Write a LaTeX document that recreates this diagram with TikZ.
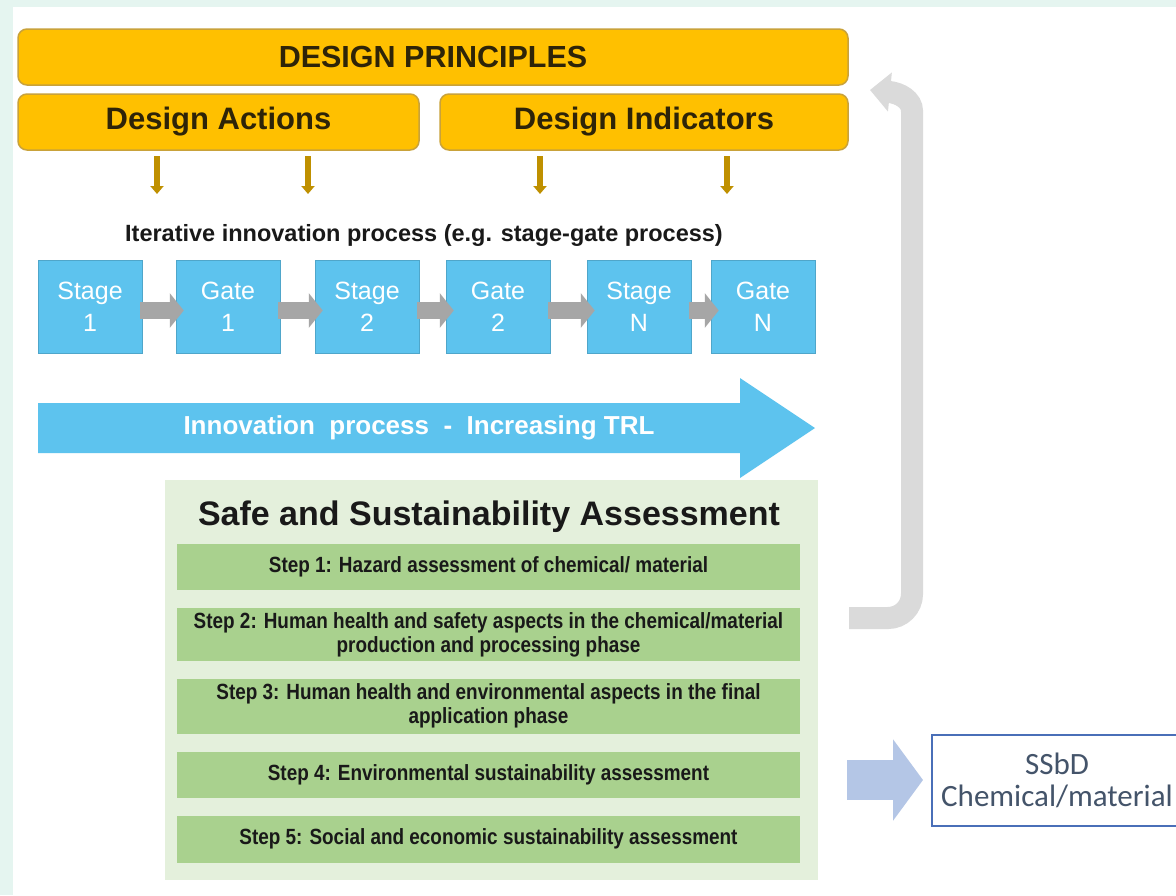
\documentclass[tikz,border=0pt]{standalone}
\usepackage{fontspec}
\setmainfont{Liberation Sans}
\newfontfamily\narrowsans[FakeStretch=0.86]{Liberation Sans}
\newfontfamily\calibsans{Carlito}
\usepackage{xcolor}
\usetikzlibrary{arrows.meta, positioning}
\definecolor{mintback}{HTML}{E5F5F0}
\definecolor{goldfill}{HTML}{FFC000}
\definecolor{goldline}{HTML}{C9A23A}
\definecolor{goldtext}{HTML}{2E2408}
\definecolor{goldarrow}{HTML}{BF9000}
\definecolor{sgblue}{HTML}{5DC3EE}
\definecolor{flowgray}{HTML}{A6A6A6}
\definecolor{loopgray}{HTML}{DADADA}
\definecolor{panelgreen}{HTML}{E4F0DC}
\definecolor{stepgreen}{HTML}{A9D18E}
\definecolor{outblue}{HTML}{B4C6E6}
\definecolor{ssbdline}{HTML}{4A6FB8}
\definecolor{ssbdtext}{HTML}{44546A}

\begin{document}
\begin{tikzpicture}[x=1pt, y=-1pt, node distance=17.5pt,
        principle/.style={rectangle, draw=goldline, line width=1.5pt, fill=goldfill, rounded corners=9pt, minimum height=56pt, inner sep=0pt, text=goldtext, font=\bfseries\fontsize{30.5}{32}\selectfont},
        sgbox/.style={rectangle, draw=sgblue!85!black, line width=0.5pt, fill=sgblue, minimum width=104pt, minimum height=93pt, inner sep=0pt, align=center, text=white, font=\fontsize{25}{32}\selectfont},
        stepbox/.style={rectangle, fill=stepgreen, minimum width=623pt, inner sep=0pt, align=center, text=black!90, font=\narrowsans\bfseries\fontsize{22}{24}\selectfont},
        dropdown/.style={-{Triangle[length=8pt, width=13pt]}, line width=6pt, draw=goldarrow},
        flowarrow/.style={-{Triangle[length=14pt, width=34pt]}, line width=17pt, draw=flowgray},
        loopback/.style={-{Triangle[length=20pt, width=38pt]}, line width=22pt, draw=loopgray, rounded corners=24pt},
        outarrow/.style={-{Triangle[length=30pt, width=80pt]}, line width=40pt, draw=outblue}]

    \useasboundingbox (0,0) rectangle (1176,895);
    \fill[mintback] (0,0) rectangle (1176,895);
    \fill[white] (13,7) rectangle (1176,895);

    % design principles
    \node[principle, minimum width=830pt] (dp) at (433,57) {DESIGN PRINCIPLES};
    \node[principle, minimum width=401pt, font=\bfseries\fontsize{31}{32}\selectfont] (da) at (218.5,122) {Design Actions};
    \node[principle, minimum width=408pt, font=\bfseries\fontsize{31}{32}\selectfont] (di) at (644,122) {Design Indicators};

    \foreach \x [count=\i] in {157,308,540,727} {
        \coordinate (u\i) at (\x,156);
        \coordinate (d\i) at (\x,194);
        \draw[dropdown] (u\i) -- (d\i);
    }

    % stage-gate row
    \node[font=\bfseries\fontsize{23.5}{26}\selectfont, text=black!90] (iter) at (424,235) {Iterative innovation process (e.g. stage-gate process)};
    \foreach \nm/\cx/\kind/\num in {s1/90/Stage/1, g1/228/Gate/1, s2/367/Stage/2, g2/498/Gate/2, sN/639/Stage/N, gN/763/Gate/N}
        \node[sgbox] (\nm) at (\cx,306.5) {\kind\\\num};
    \foreach \a/\b in {s1/g1, g1/s2, s2/g2, g2/sN, sN/gN}
        \draw[flowarrow] ([xshift=-2pt, yshift=-4pt]\a.east) -- ([xshift=8pt, yshift=-4pt]\b.west);

    % TRL arrow
    \fill[sgblue] (38,403) -- (740,403) -- (740,378) -- (815,428) -- (740,478) -- (740,453) -- (38,453) -- cycle;
    \node[font=\bfseries\fontsize{26}{28}\selectfont, text=white] (trl) at (419,428) {Innovation\ \ process\ \ -\ \ Increasing TRL};

    % assessment
    \node[rectangle, fill=panelgreen, minimum width=653pt, minimum height=400pt, inner sep=0pt] (panel) at (491.5,680) {};
    \node[font=\bfseries\fontsize{34}{36}\selectfont, text=black!90] (ssa) at (489,517) {Safe and Sustainability Assessment};
    \node[stepbox, minimum height=46pt] (step1) at (488.5,567) {Step 1: Hazard assessment of chemical/ material};
    \node[stepbox, minimum height=53pt, below=of step1] (step2) {Step 2: Human health and safety aspects in the chemical/material\\production and processing phase};
    \node[stepbox, minimum height=55pt, below=of step2] (step3) {Step 3: Human health and environmental aspects in the final\\application phase};
    \node[stepbox, minimum height=46pt, below=of step3] (step4) {Step 4: Environmental sustainability assessment};
    \node[stepbox, minimum height=47pt, below=of step4] (step5) {Step 5: Social and economic sustainability assessment};

    % feedback loop
    \coordinate (r0) at (849,618);
    \coordinate (r1) at (870,90);
    \draw[loopback] (r0) -- (912,618) -- (912,135) .. controls (912,100) and (900,93) .. (r1);

    % result
    \node[draw=ssbdline, line width=2pt, fill=white, minimum width=250pt, minimum height=91pt, inner sep=0pt, anchor=west, align=center, text=ssbdtext, font=\calibsans\fontsize{31}{32}\selectfont] (ssbd) at (931,780) {SSbD\\Chemical/material};
    \coordinate (o0) at (847,780);
    \draw[outarrow] (o0) -- ([xshift=-8pt]ssbd.west);
\end{tikzpicture}
\end{document}
